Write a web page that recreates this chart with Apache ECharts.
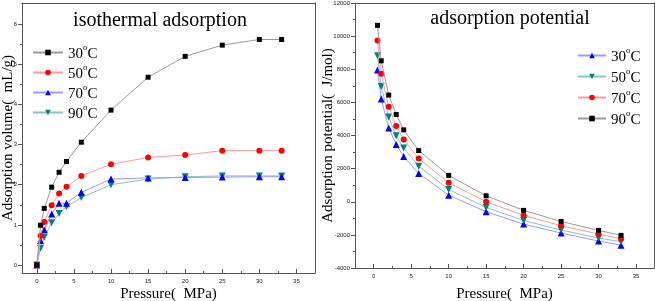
<!DOCTYPE html>
<html><head><meta charset="utf-8">
<script src="https://cdn.jsdelivr.net/npm/echarts@6/dist/echarts.min.js"></script>
<style>html,body{margin:0;padding:0;background:#fff}#c{width:655px;height:301px}</style>
</head><body><div id="c"></div>
<script>
// ---- data ----
const pressure = [0, 0.5, 1, 2, 3, 4, 6, 10, 15, 20, 25, 30, 33];
const volume30 = [0, 0.99, 1.41, 1.94, 2.31, 2.58, 3.06, 3.86, 4.68, 5.2, 5.48, 5.62, 5.62];
const volume50 = [0, 0.73, 1.07, 1.49, 1.78, 1.95, 2.22, 2.51, 2.68, 2.74, 2.85, 2.85, 2.85];
const volume70 = [0, 0.61, 0.88, 1.27, 1.54, 1.54, 1.81, 2.14, 2.17, 2.18, 2.19, 2.2, 2.2];
const volume90 = [0, 0.42, 0.69, 1.05, 1.28, 1.45, 1.68, 2.0, 2.14, 2.2, 2.22, 2.22, 2.22];
const pressureP = [0.5, 1, 2, 3, 4, 6, 10, 15, 20, 25, 30, 33];
const potential30 = [7950, 6200, 4460, 3460, 2730, 1710, 400, -600, -1350, -1890, -2370, -2630];
const potential50 = [8820, 6960, 5110, 3980, 3250, 2150, 740, -340, -1130, -1710, -2190, -2410];
const potential70 = [9740, 7730, 5730, 4580, 3760, 2610, 1150, 0, -820, -1450, -1950, -2230];
const potential90 = [10650, 8510, 6440, 5270, 4340, 3090, 1590, 360, -520, -1190, -1730, -2030];
const seriesNames = ['30°C', '50°C', '70°C', '90°C'];
const xTicksL = [0, 5, 10, 15, 20, 25, 30, 35];
const xMinorL = [2.5, 7.5, 12.5, 17.5, 22.5, 27.5, 32.5];
const yTicksL = [0, 1, 2, 3, 4, 5, 6];
const yMinorL = [0.5, 1.5, 2.5, 3.5, 4.5, 5.5];
const yTicksR = [-4000, -2000, 0, 2000, 4000, 6000, 8000, 10000, 12000];
const yMinorR = [-3000, -1000, 1000, 3000, 5000, 7000, 9000, 11000];

// ---- styles ----
const serif = 'Liberation Serif';
const sans = 'Liberation Sans';
const axisCol = '#555';
const sty = {
  black: {mark: '#000000', line: '#9a9a9a', symbol: 'rect', size: 5},
  red:   {mark: '#ff0000', line: '#ff9a9a', symbol: 'circle', size: 6},
  blue:  {mark: '#0000ff', line: '#9a9aff', symbol: 'triangle', size: 7},
  teal:  {mark: '#008080', line: '#88c4c4', symbol: 'path://M0,0 L10,0 L5,9 Z', size: 7}
};
function pairs(xs, ys) { return xs.map((x, i) => [x, ys[i]]); }
function mk(name, xi, yi, xs, ys, s, z) {
  return {
    type: 'line', name: name, xAxisIndex: xi, yAxisIndex: yi,
    data: pairs(xs, ys), symbol: s.symbol, symbolSize: s.size, z: z,
    lineStyle: {color: s.line, width: 1},
    itemStyle: {color: s.mark, borderWidth: 0},
    emphasis: {disabled: true}, animation: false
  };
}
const rich = {
  n: {fontFamily: serif, fontSize: 15, color: '#000', verticalAlign: 'bottom', lineHeight: 19},
  sup: {fontFamily: serif, fontSize: 9, color: '#000', verticalAlign: 'top', lineHeight: 9}
};
function legendFmt(name) {
  return '{n|' + name.replace('°C', '') + '}{sup|o}{n|C}';
}
const numFmt = v => String(v);
function xAxisDef(gi, min, max, gap) {
  return [{
    type: 'value', gridIndex: gi, min: min, max: max,
    axisLine: {show: true, onZero: false, lineStyle: {color: axisCol, width: 1}},
    axisTick: {show: true, inside: true, length: 4, customValues: xTicksL, lineStyle: {color: axisCol}},
    axisLabel: {customValues: xTicksL, formatter: numFmt, fontFamily: sans, fontSize: 6, color: '#222', margin: 5},
    splitLine: {show: false},
    name: 'Pressure(  MPa)', nameLocation: 'middle', nameGap: gap, nameMoveOverlap: false,
    nameTextStyle: {fontFamily: serif, fontSize: 15, color: '#000'}
  }, {
    type: 'value', gridIndex: gi, min: min, max: max, position: 'bottom',
    axisLine: {show: false, onZero: false},
    axisTick: {show: true, inside: true, length: 2, customValues: xMinorL, lineStyle: {color: axisCol}},
    axisLabel: {show: false}, splitLine: {show: false}
  }, {
    type: 'value', gridIndex: gi, min: min, max: max, position: 'top',
    axisLine: {show: true, onZero: false, lineStyle: {color: axisCol, width: 1}},
    axisTick: {show: false}, axisLabel: {show: false}, splitLine: {show: false}
  }];
}
function yAxisDef(gi, min, max, ticks, minor, name, gap) {
  return [{
    type: 'value', gridIndex: gi, min: min, max: max,
    axisLine: {show: true, onZero: false, lineStyle: {color: axisCol, width: 1}},
    axisTick: {show: true, inside: false, length: 4, customValues: ticks, lineStyle: {color: axisCol}},
    axisLabel: {customValues: ticks, formatter: numFmt, fontFamily: sans, fontSize: 6, color: '#222', margin: 5},
    splitLine: {show: false},
    name: name, nameLocation: 'middle', nameGap: gap, nameMoveOverlap: false,
    nameTextStyle: {fontFamily: serif, fontSize: 15, color: '#000'}
  }, {
    type: 'value', gridIndex: gi, min: min, max: max, position: 'left',
    axisLine: {show: false, onZero: false},
    axisTick: {show: true, inside: false, length: 2, customValues: minor, lineStyle: {color: axisCol}},
    axisLabel: {show: false}, splitLine: {show: false}
  }, {
    type: 'value', gridIndex: gi, min: min, max: max, position: 'right',
    axisLine: {show: true, onZero: false, lineStyle: {color: axisCol, width: 1}},
    axisTick: {show: false}, axisLabel: {show: false}, splitLine: {show: false}
  }];
}

const xL = xAxisDef(0, -2, 37.5, 14);
const xR = xAxisDef(1, -2.5, 37.4, 19);
const yL = yAxisDef(0, -0.2, 6.53, yTicksL, yMinorL, 'Adsorption volume(  mL/g)', 6);
const yR = yAxisDef(1, -4000, 12000, yTicksR, yMinorR, 'Adsorption potential(  J/mol)', 19);

const chart = echarts.init(document.getElementById('c'), null, {renderer: 'canvas'});
chart.setOption({
  animation: false,
  backgroundColor: '#fff',
  title: [
    {text: 'isothermal adsorption', left: 155, top: 6, textAlign: 'center',
     textStyle: {fontFamily: serif, fontSize: 20, fontWeight: 'normal', color: '#000'}},
    {text: 'adsorption potential', left: 505, top: 4, textAlign: 'center',
     textStyle: {fontFamily: serif, fontSize: 20, fontWeight: 'normal', color: '#000'}}
  ],
  grid: [
    {left: 22, right: 340, top: 3, bottom: 28, containLabel: false, outerBoundsMode: 'none'},
    {left: 355, right: 1, top: 3, bottom: 33, containLabel: false, outerBoundsMode: 'none'}
  ],
  xAxis: xL.concat(xR),
  yAxis: yL.concat(yR),
  legend: [
    {data: seriesNames.map(n => n), orient: 'vertical', left: 32, top: 43, padding: 0,
     itemWidth: 30, itemHeight: 7, itemGap: 1, selectedMode: false,
     formatter: legendFmt, textStyle: {rich: rich}},
    {data: seriesNames.map(n => n + ' '), orient: 'vertical', left: 577, top: 46, padding: 0,
     itemWidth: 28, itemHeight: 7, itemGap: 2, selectedMode: false,
     formatter: n => legendFmt(n.trim()), textStyle: {rich: rich}}
  ],
  series: [
    mk(seriesNames[3], 0, 0, pressure, volume90, sty.teal, 2),
    mk(seriesNames[2], 0, 0, pressure, volume70, sty.blue, 3),
    mk(seriesNames[1], 0, 0, pressure, volume50, sty.red, 4),
    mk(seriesNames[0], 0, 0, pressure, volume30, sty.black, 5),
    mk(seriesNames[0] + ' ', 3, 3, pressureP, potential30, sty.blue, 2),
    mk(seriesNames[1] + ' ', 3, 3, pressureP, potential50, sty.teal, 3),
    mk(seriesNames[2] + ' ', 3, 3, pressureP, potential70, sty.red, 4),
    mk(seriesNames[3] + ' ', 3, 3, pressureP, potential90, sty.black, 5)
  ]
});
</script></body></html>
